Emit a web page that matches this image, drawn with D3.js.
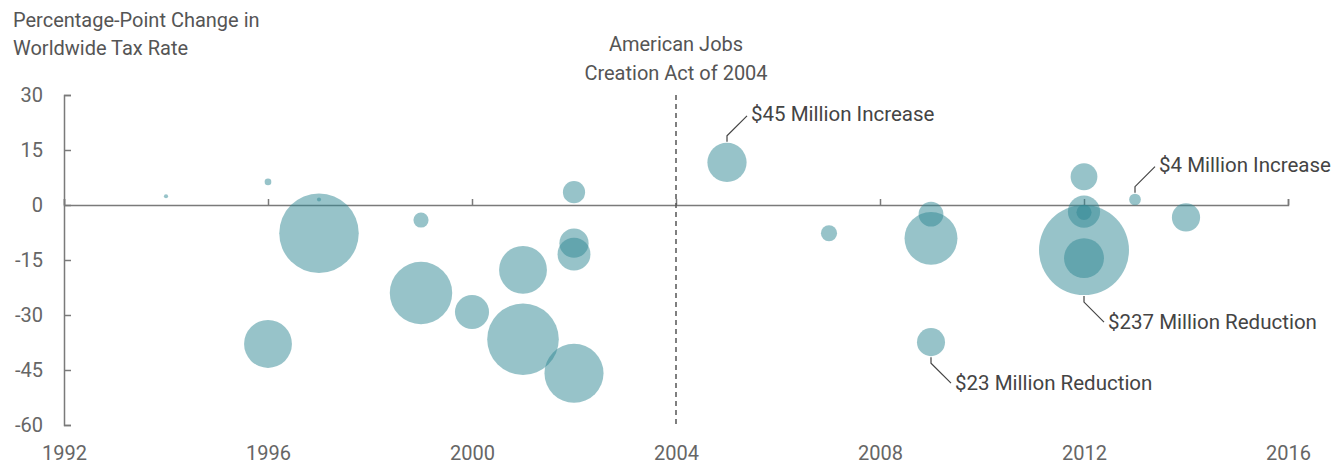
<!DOCTYPE html>
<html>
<head>
<meta charset="utf-8">
<script src="https://cdn.jsdelivr.net/npm/d3@7"></script>
<style>
  body { margin: 0; background: #fff; }
  svg text { font-family: Roboto, "Noto Sans", sans-serif; }
</style>
</head>
<body>
<div id="canvas"></div>
<script>
// data
var years   = [1994, 1996, 1997, 1997, 1996, 1999, 1999, 2000, 2001, 2001, 2002, 2002, 2002, 2002, 2005, 2007, 2009, 2009, 2009, 2012, 2012, 2012, 2012, 2012, 2013, 2014];
var changes = [2.4, 6.3, 1.5, -7.7, -37.9, -4.1, -24, -29.2, -17.7, -36.6, 3.5, -10.4, -13.4, -45.9, 11.6, -7.7, -2.5, -9.1, -37.4, 7.7, -1.8, -2, -12.3, -14.5, 1.5, -3.4];
var amounts = [0.5, 1.3, 0.5, 185, 67, 6.7, 114, 34, 67, 150, 14.4, 25, 31.6, 102, 45, 7.6, 18, 82, 23, 21, 30.4, 6.7, 237, 46.6, 4, 23.3];
var xTicks  = [1992, 1996, 2000, 2004, 2008, 2012, 2016];
var yTicks  = [30, 15, 0, -15, -30, -45, -60];
var callouts = [
  {year: 2005, change: 11.6, amount: 45,  text: "$45 Million Increase",   dir: -1},
  {year: 2013, change: 1.5,  amount: 4,   text: "$4 Million Increase",    dir: -1},
  {year: 2012, change: -12.3, amount: 237, text: "$237 Million Reduction", dir: 1},
  {year: 2009, change: -37.4, amount: 23, text: "$23 Million Reduction",  dir: 1}
];

var width = 1341, height = 465;

var svg = d3.select("#canvas").append("svg")
  .attr("width", width)
  .attr("height", height);

var x = d3.scaleLinear().domain([1992, 2016]).range([64, 1288]);
var y = d3.scaleLinear().domain([-60, 30]).range([425, 95]);
var r = d3.scaleSqrt().domain([0, 237]).range([0, 45]);

var axisColor = "#7a7a7a";

// title
var title = svg.append("text")
  .attr("x", 13)
  .attr("fill", "#555")
  .style("font-size", "20px");
title.append("tspan").attr("x", 13).attr("y", 27).text("Percentage-Point Change in");
title.append("tspan").attr("x", 13).attr("y", 55).text("Worldwide Tax Rate");

// y axis, ticks pointing inward
var gy = svg.append("g")
  .attr("transform", "translate(" + x(1992) + ",0)")
  .call(d3.axisLeft(y).tickValues(yTicks).tickSize(-7).tickPadding(21)
    .tickFormat(function(d) { return String(d); }));
gy.selectAll("path, line").attr("stroke", axisColor).attr("stroke-width", 1.5);
gy.selectAll("text").attr("fill", "#666").style("font-size", "20px");

// x axis line sits on zero with upward ticks
var gx = svg.append("g")
  .attr("transform", "translate(0," + y(0) + ")")
  .call(d3.axisBottom(x).tickValues(xTicks).tickSize(-6).tickFormat(""));
gx.selectAll("path, line").attr("stroke", axisColor).attr("stroke-width", 1.5);

// x tick labels at the bottom
var gxl = svg.append("g")
  .attr("transform", "translate(0," + y(-60) + ")")
  .call(d3.axisBottom(x).tickValues(xTicks).tickSize(0).tickPadding(21).tickFormat(d3.format("d")));
gxl.select(".domain").remove();
gxl.selectAll("text").attr("fill", "#666").style("font-size", "20px");

// 2004 act marker
svg.append("line")
  .attr("x1", x(2004)).attr("x2", x(2004))
  .attr("y1", y(30)).attr("y2", y(-60))
  .attr("stroke", "#555")
  .attr("stroke-width", 1.5)
  .attr("stroke-dasharray", "5,4");

var act = svg.append("text")
  .attr("text-anchor", "middle")
  .attr("fill", "#555")
  .style("font-size", "20px");
act.append("tspan").attr("x", x(2004)).attr("y", 51).text("American Jobs");
act.append("tspan").attr("x", x(2004)).attr("y", 80).text("Creation Act of 2004");

// bubbles
var data = years.map(function(d, i) {
  return {year: d, change: changes[i], amount: amounts[i]};
});

svg.append("g").selectAll("circle")
  .data(data)
  .enter().append("circle")
    .attr("cx", function(d) { return x(d.year); })
    .attr("cy", function(d) { return y(d.change); })
    .attr("r", function(d) { return r(d.amount); })
    .attr("fill", "#2f8893")
    .attr("fill-opacity", 0.5);

// callouts: short vertical stub then diagonal to label
callouts.forEach(function(c) {
  var cx = x(c.year);
  var edge = y(c.change) + c.dir * (r(c.amount) + 1);
  var stub = edge + c.dir * 6;
  var ex = cx + 20, ey = stub + c.dir * 20;
  svg.append("path")
    .attr("d", "M" + cx + "," + edge + "V" + stub + "L" + ex + "," + ey)
    .attr("fill", "none")
    .attr("stroke", "#444")
    .attr("stroke-width", 1.2);
  svg.append("text")
    .attr("x", ex + 4)
    .attr("y", ey + (c.dir < 0 ? 5 : 7))
    .attr("fill", "#444")
    .style("font-size", "20.5px")
    .text(c.text);
});
</script>
</body>
</html>
